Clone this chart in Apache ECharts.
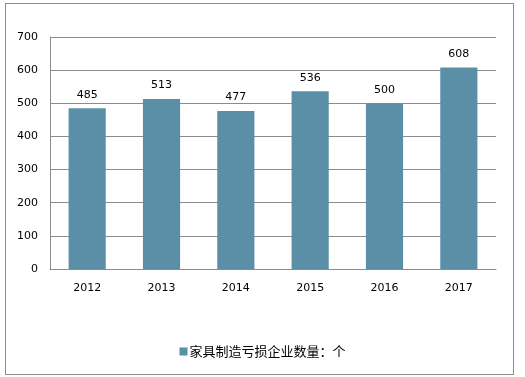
<!DOCTYPE html>
<html>
<head>
<meta charset="utf-8">
<script src="https://cdn.jsdelivr.net/npm/echarts@6/dist/echarts.min.js"></script>
<style>
  html, body { margin: 0; padding: 0; background: #fff; }
  #frame {
    position: absolute; left: 5px; top: 3px;
    width: 507px; height: 370px;
    border: 1px solid #8c8c8c;
  }
  #chart { position: absolute; left: 0; top: 0; width: 525px; height: 377px; }
</style>
</head>
<body>
<div id="frame"></div>
<div id="chart"></div>
<script>
  const years = ['2012', '2013', '2014', '2015', '2016', '2017']
  const counts = [485, 513, 477, 536, 500, 608]
  const seriesName = '家具制造亏损企业数量：个'

  const chart = echarts.init(document.getElementById('chart'))
  const font = 'Verdana, "DejaVu Sans", "Noto Sans CJK SC", sans-serif'

  chart.setOption({
    animation: false,
    textStyle: { fontFamily: font },
    grid: { left: 50, right: 29, top: 37, bottom: 108, containLabel: false },
    legend: {
      bottom: 14,
      left: 'center',
      itemWidth: 8,
      itemHeight: 8,
      itemGap: 2,
      icon: 'rect',
      textStyle: { color: '#000', fontSize: 13, fontFamily: '"Noto Sans CJK SC", sans-serif', padding: [0, 0, 0, -3] },
      data: [seriesName]
    },
    xAxis: {
      type: 'category',
      data: years,
      axisLine: { lineStyle: { color: '#8c8c8c' } },
      axisTick: { show: false },
      axisLabel: { color: '#000', fontSize: 11, margin: 14 }
    },
    yAxis: {
      type: 'value',
      min: 0,
      max: 700,
      interval: 100,
      axisLine: { show: true, lineStyle: { color: '#8c8c8c' } },
      axisTick: { show: false },
      axisLabel: { color: '#000', fontSize: 11, margin: 12 },
      splitLine: { lineStyle: { color: '#8c8c8c' } }
    },
    series: [{
      name: seriesName,
      type: 'bar',
      data: counts,
      barWidth: '50%',
      itemStyle: { color: '#5b8fa8' },
      label: { show: true, position: 'top', distance: 8, color: '#000', fontSize: 11 }
    }]
  })
</script>
</body>
</html>
